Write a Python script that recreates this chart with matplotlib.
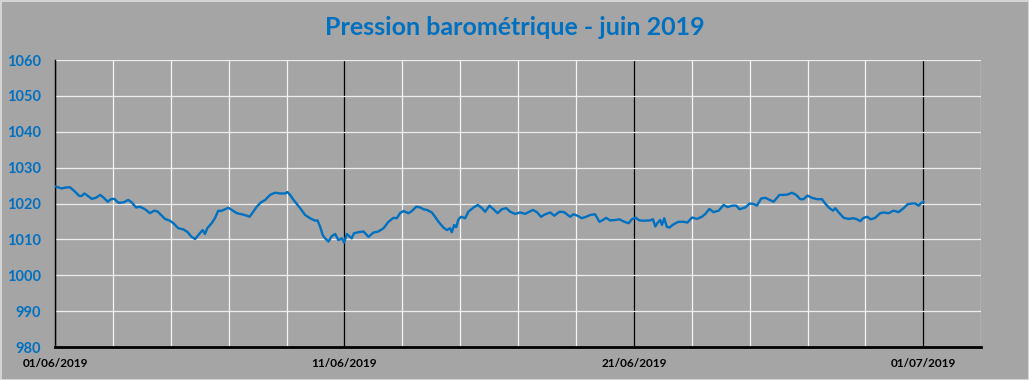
import datetime as dt
import matplotlib
matplotlib.use("Agg")
import matplotlib.pyplot as plt
import matplotlib.dates as mdates

# readings: days since 01/06/2019 00:00 and pressure in hPa
day_offsets = [
    0.03, 0.23, 0.40, 0.52, 0.69, 0.84, 0.92, 1.01, 1.12, 1.27, 1.41, 1.56, 1.67, 1.82, 1.93,
    2.05, 2.19, 2.36, 2.53, 2.65, 2.80, 2.94, 3.11, 3.28, 3.42, 3.54, 3.69, 3.80, 3.97, 4.09,
    4.26, 4.43, 4.57, 4.72, 4.84, 4.95, 5.10, 5.18, 5.26, 5.42, 5.53, 5.64, 5.73, 5.82, 5.99,
    6.11, 6.28, 6.45, 6.63, 6.72, 6.83, 6.97, 7.11, 7.26, 7.43, 7.60, 7.78, 7.95, 8.03, 8.12,
    8.24, 8.35, 8.47, 8.64, 8.81, 8.99, 9.07, 9.16, 9.25, 9.33, 9.45, 9.56, 9.68, 9.79, 9.91,
    9.99, 10.08, 10.25, 10.33, 10.48, 10.66, 10.83, 11.00, 11.17, 11.35, 11.52, 11.69, 11.81,
    11.92, 12.04, 12.21, 12.33, 12.48, 12.62, 12.73, 12.85, 13.02, 13.13, 13.25, 13.42, 13.54,
    13.65, 13.71, 13.79, 13.86, 13.94, 14.03, 14.17, 14.28, 14.46, 14.61, 14.75, 14.86, 15.01,
    15.15, 15.29, 15.44, 15.59, 15.73, 15.90, 16.07, 16.24, 16.51, 16.65, 16.79, 16.94, 17.11,
    17.25, 17.43, 17.59, 17.80, 17.91, 18.05, 18.20, 18.35, 18.49, 18.66, 18.81, 18.93, 19.04,
    19.18, 19.36, 19.50, 19.67, 19.82, 19.93, 20.05, 20.19, 20.33, 20.57, 20.66, 20.74, 20.82,
    20.91, 20.97, 21.05, 21.14, 21.23, 21.37, 21.54, 21.72, 21.85, 22.01, 22.18, 22.35, 22.47,
    22.61, 22.75, 22.93, 23.10, 23.24, 23.39, 23.54, 23.65, 23.85, 24.00, 24.13, 24.25, 24.40,
    24.54, 24.69, 24.83, 25.03, 25.17, 25.31, 25.46, 25.61, 25.75, 25.86, 26.00, 26.15, 26.33,
    26.50, 26.61, 26.76, 26.88, 26.96, 27.07, 27.25, 27.42, 27.59, 27.71, 27.82, 27.94, 28.06,
    28.19, 28.34, 28.51, 28.63, 28.80, 28.97, 29.15, 29.32, 29.46, 29.61, 29.72, 29.84, 29.92,
    30.00,
]
pressure = [
    1024.7, 1024.2, 1024.5, 1024.5, 1023.3, 1022.1, 1022.1, 1022.8, 1022.2, 1021.3, 1021.6,
    1022.4, 1021.7, 1020.5, 1021.2, 1021.3, 1020.2, 1020.3, 1021.0, 1020.3, 1018.9, 1019.1,
    1018.4, 1017.3, 1018.0, 1017.8, 1016.6, 1015.7, 1015.2, 1014.5, 1013.1, 1012.8, 1012.1,
    1010.7, 1010.1, 1011.2, 1012.6, 1011.5, 1013.1, 1014.6, 1016.0, 1018.0, 1017.9, 1018.2,
    1018.8, 1018.2, 1017.3, 1017.0, 1016.6, 1016.3, 1017.5, 1019.1, 1020.3, 1021.0, 1022.4,
    1023.0, 1022.8, 1022.8, 1023.2, 1022.4, 1021.0, 1019.9, 1018.7, 1016.8, 1015.9, 1015.2,
    1015.3, 1013.5, 1011.2, 1010.3, 1009.4, 1010.9, 1011.5, 1009.8, 1010.3, 1009.1, 1011.5,
    1010.3, 1011.7, 1012.0, 1012.2, 1010.7, 1011.9, 1012.2, 1013.1, 1014.9, 1016.0, 1015.9,
    1017.3, 1017.9, 1017.3, 1017.9, 1019.1, 1018.9, 1018.4, 1018.2, 1017.5, 1016.3, 1014.9,
    1013.3, 1012.6, 1013.1, 1012.0, 1014.0, 1013.4, 1015.6, 1016.3, 1015.9, 1017.7, 1018.9,
    1019.6, 1018.7, 1017.7, 1019.4, 1018.4, 1017.3, 1018.4, 1018.7, 1017.7, 1017.1, 1017.5,
    1017.1, 1018.2, 1017.6, 1016.3, 1017.0, 1017.5, 1016.6, 1017.7, 1017.6, 1016.3, 1017.0,
    1016.6, 1015.9, 1016.3, 1016.8, 1017.0, 1014.9, 1015.4, 1016.0, 1015.3, 1015.4, 1015.6,
    1014.9, 1014.5, 1015.6, 1016.1, 1015.3, 1015.2, 1015.3, 1015.6, 1013.6, 1014.6, 1015.4,
    1014.0, 1015.9, 1013.5, 1013.3, 1014.2, 1014.9, 1014.9, 1014.7, 1016.1, 1015.7, 1016.3,
    1017.1, 1018.5, 1017.6, 1018.0, 1019.6, 1019.0, 1019.4, 1019.4, 1018.4, 1018.9, 1020.0,
    1019.9, 1019.4, 1021.4, 1021.6, 1021.0, 1020.5, 1022.4, 1022.4, 1022.5, 1023.0, 1022.4,
    1021.2, 1021.2, 1022.2, 1021.6, 1021.2, 1021.2, 1020.0, 1018.7, 1018.0, 1018.7, 1017.6,
    1016.0, 1015.7, 1015.9, 1015.6, 1015.1, 1016.0, 1016.3, 1015.6, 1016.0, 1017.3, 1017.5,
    1017.3, 1018.0, 1017.6, 1018.7, 1019.8, 1020.0, 1020.0, 1019.4, 1020.1, 1020.5,
]

start = dt.datetime(2019, 6, 1)
end = dt.datetime(2019, 7, 3)
times = [start + dt.timedelta(days=d) for d in day_offsets]

bg = '#A5A5A5'
blue = '#0070C0'

fig = plt.figure(figsize=(10.29, 3.8), dpi=100)
fig.patch.set_facecolor(bg)
fig.patch.set_edgecolor('#D4D4D4')
fig.patch.set_linewidth(2)
ax = fig.add_axes([0.0535, 0.0868, 0.9, 0.7553])
ax.set_facecolor(bg)

ax.plot(times, pressure, color=blue, linewidth=1.7, zorder=3)

ax.set_xlim(start, end)
ax.set_ylim(980, 1060)
ax.set_yticks(range(980, 1061, 10))

ax.xaxis.set_major_locator(mdates.DayLocator(bymonthday=[1, 11, 21]))
ax.xaxis.set_major_formatter(mdates.DateFormatter('%d/%m/%Y'))
ax.xaxis.set_minor_locator(mdates.DayLocator(bymonthday=range(1, 32, 2)))

ax.grid(axis='y', color='#EDEDED', linewidth=0.9)
ax.grid(axis='x', which='minor', color='#F4F4F4', linewidth=0.9)
ax.grid(axis='x', which='major', color='black', linewidth=0.9)
ax.set_axisbelow(True)

for s in ['top', 'right']:
    ax.spines[s].set_visible(False)
ax.spines['left'].set_linewidth(1.0)
ax.spines['bottom'].set_linewidth(2.0)

ax.tick_params(axis='both', which='both', length=0)
ax.tick_params(axis='y', pad=10)
ax.tick_params(axis='x', pad=8)
for lab in ax.get_yticklabels():
    lab.set_color(blue)
    lab.set_fontweight('bold')
    lab.set_fontsize(10.5)
    lab.set_family('Lato')
for lab in ax.get_xticklabels():
    lab.set_color('black')
    lab.set_fontweight('bold')
    lab.set_fontsize(8.5)
    lab.set_family('Lato')

fig.text(0.5, 0.928, 'Pression barométrique - juin 2019', ha='center', va='center',
         color=blue, fontsize=18, fontweight='bold', family='Lato')

fig.savefig('out.png', dpi=100, facecolor=bg, edgecolor=fig.get_edgecolor())
